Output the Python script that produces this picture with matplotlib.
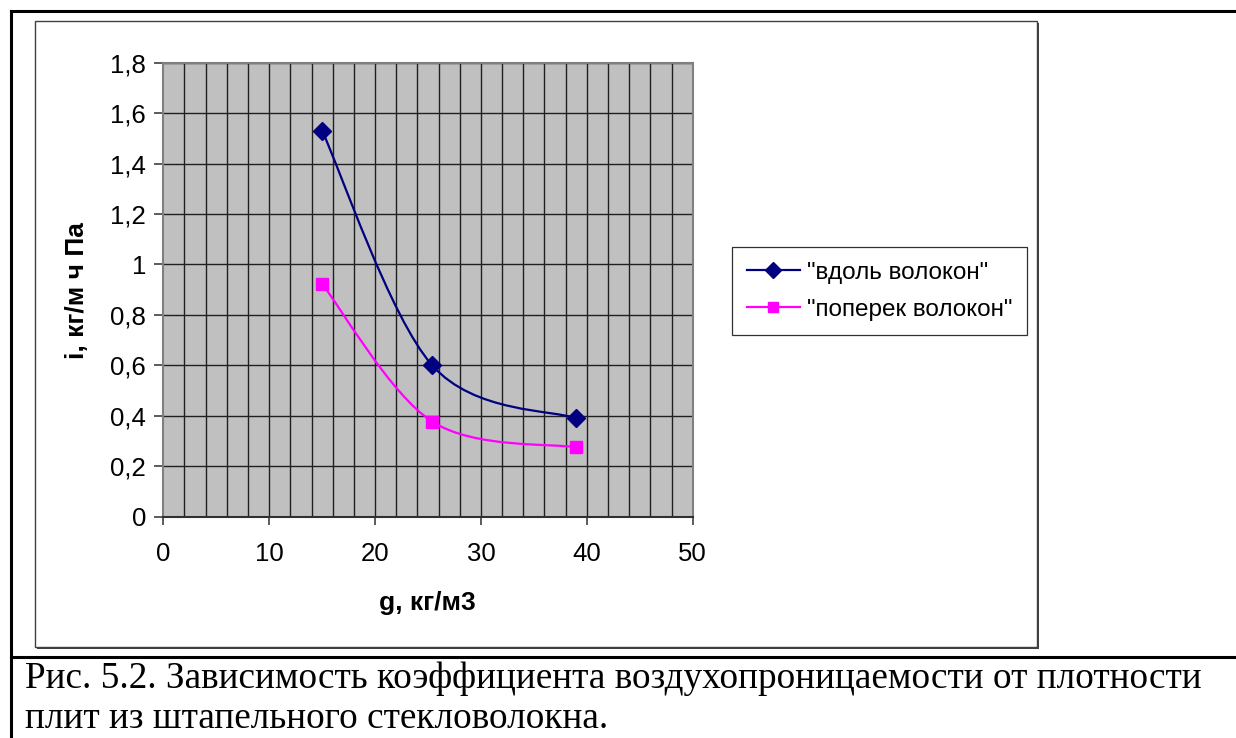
import matplotlib
matplotlib.use('Agg')
import matplotlib.pyplot as plt
from matplotlib.path import Path
from matplotlib.patches import PathPatch, Rectangle
from matplotlib.lines import Line2D

# data
density = [15, 25.4, 39]
along = [1.53, 0.60, 0.39]
across = [0.923, 0.377, 0.275]
series_names = ['"вдоль волокон"', '"поперек волокон"']
x_ticks = [0, 10, 20, 30, 40, 50]
y_ticks = [0, 0.2, 0.4, 0.6, 0.8, 1.0, 1.2, 1.4, 1.6, 1.8]
x_title = 'g, кг/м3'
y_title = 'i, кг/м ч Па'
caption = ['Рис. 5.2. Зависимость коэффициента воздухопроницаемости от плотности',
           'плит из штапельного стекловолокна.']

W, H = 1236, 738
fig = plt.figure(figsize=(W / 100, H / 100), dpi=100)


def fx(px):
    return px / W


def fy(py):
    return 1 - py / H


def smooth_path(xs, ys):
    # excel-like smoothed line: catmull-rom segments as cubic beziers
    pts = list(zip(xs, ys))
    n = len(pts)
    verts = [pts[0]]
    codes = [Path.MOVETO]
    for i in range(n - 1):
        p0 = pts[max(i - 1, 0)]
        p1 = pts[i]
        p2 = pts[i + 1]
        p3 = pts[min(i + 2, n - 1)]
        c1 = (p1[0] + (p2[0] - p0[0]) / 6, p1[1] + (p2[1] - p0[1]) / 6)
        c2 = (p2[0] - (p3[0] - p1[0]) / 6, p2[1] - (p3[1] - p1[1]) / 6)
        verts += [c1, c2, p2]
        codes += [Path.CURVE4] * 3
    return Path(verts, codes)


# table cell lines
fig.add_artist(Line2D([fx(11), fx(11)], [fy(11), fy(738)], color='black', lw=2.2))
fig.add_artist(Line2D([fx(11), fx(1236)], [fy(11), fy(11)], color='black', lw=2.2))
fig.add_artist(Line2D([fx(11), fx(1236)], [fy(657), fy(657)], color='black', lw=2.2))

# chart area box with shadow
fig.add_artist(Rectangle((fx(37), fy(649)), fx(1002), 626 / H, facecolor='#404040',
                         edgecolor='none', zorder=-2))
fig.add_artist(Rectangle((fx(35), fy(647)), fx(1002), 626 / H, facecolor='white',
                         edgecolor='#404040', lw=1.0, zorder=-1))

ax = fig.add_axes([fx(163.3), fy(516.7), fx(692.7 - 163.3), (516.7 - 62.7) / H])
ax.set_facecolor('#C0C0C0')
ax.set_xlim(0, 50)
ax.set_ylim(0, 1.8)

for v in range(2, 50, 2):
    ax.axvline(v, color='#202020', lw=1.0, zorder=1)
for v in y_ticks[1:]:
    ax.axhline(v, color='#202020', lw=1.0, zorder=1)

for sp in ax.spines.values():
    sp.set_color('#808080')
    sp.set_linewidth(1.5)
ax.spines['bottom'].set_color('#303030')

ax.set_xticks(x_ticks)
ax.set_yticks(y_ticks)
ax.set_xticklabels([str(t) for t in x_ticks])
ax.set_yticklabels([('%g' % t).replace('.', ',') for t in y_ticks])
ax.tick_params(axis='x', length=6, width=1.2, color='#404040', pad=12, labelsize=18.5)
ax.tick_params(axis='y', length=6.5, width=1.2, color='#404040', pad=6, labelsize=18.5)
for lab in ax.get_xticklabels() + ax.get_yticklabels():
    lab.set_fontfamily('Liberation Sans')

colors = ['#000080', '#FF00FF']
markers = ['D', 's']
msizes = [9, 9]
for ys, c, m, ms in zip([along, across], colors, markers, msizes):
    ax.add_patch(PathPatch(smooth_path(density, ys), facecolor='none', edgecolor=c,
                           lw=1.6, zorder=3))
    ax.plot(density, ys, linestyle='none', marker=m, markersize=ms, color=c,
            markeredgecolor=c, zorder=4, clip_on=False)

fig.text(fx(427), fy(603), x_title, ha='center', va='center', fontsize=19,
         fontweight='bold', family='Liberation Sans')
fig.text(fx(77), fy(291), y_title, ha='center', va='center', rotation=90,
         fontsize=19, fontweight='bold', family='Liberation Sans')

handles = [Line2D([], [], color=c, lw=1.6, marker=m, markersize=ms * 0.85)
           for c, m, ms in zip(colors, markers, msizes)]
leg = fig.legend(handles, series_names, loc='upper left',
                 bbox_to_anchor=(fx(732), fy(247)), bbox_transform=fig.transFigure,
                 borderaxespad=0, fancybox=False, shadow=False, framealpha=1,
                 edgecolor='#303030', handlelength=2.2, handletextpad=0.28,
                 labelspacing=0.62, borderpad=0.6,
                 prop={'family': 'Liberation Sans', 'size': 17.5})
leg.get_frame().set_linewidth(0.9)

fig.text(fx(25), fy(688), caption[0], ha='left', va='baseline', fontsize=26.8,
         family='Liberation Serif')
fig.text(fx(25), fy(728), caption[1], ha='left', va='baseline', fontsize=26.8,
         family='Liberation Serif')

fig.savefig('out.png', dpi=100)
